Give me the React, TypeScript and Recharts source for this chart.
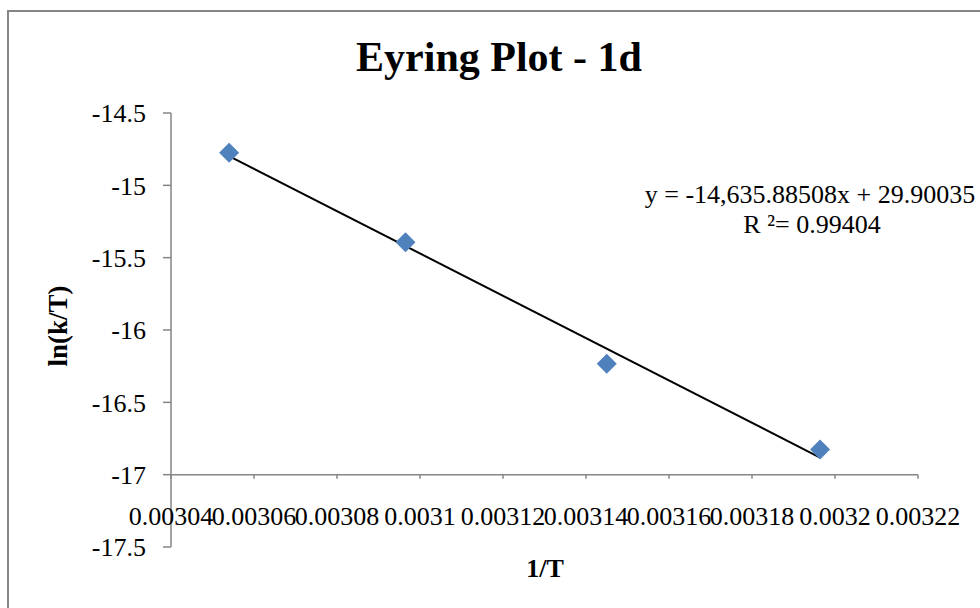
import React from 'react';
import { ScatterChart, Scatter, XAxis, YAxis, ReferenceLine } from 'recharts';

// 1/T (K^-1) and ln(k/T)
const invT = [0.003054, 0.0030965, 0.003145, 0.0031964];
const lnKT = [-14.775, -15.394, -16.234, -16.826];

const xTicks = [0.00304, 0.00306, 0.00308, 0.0031, 0.00312, 0.00314, 0.00316, 0.00318, 0.0032, 0.00322];
const yTicks = [-17.5, -17, -16.5, -16, -15.5, -15, -14.5];

const SLOPE = -14635.88508;
const INTERCEPT = 29.90035;
const R2 = 0.99404;

const FONT = '"Liberation Serif", "Times New Roman", serif';
const AXIS_GRAY = '#868686';
const MARKER = '#4F81BD';

const points = invT.map((x, i) => ({ x, y: lnKT[i] }));
const fit = (x: number) => SLOPE * x + INTERCEPT;

function fmtTick(v: number) {
  return String(Number(v.toFixed(5)));
}

function XTick({ x, y, payload }: { x?: number; y?: number; payload?: { value: number } }) {
  return (
    <text x={x} y={y} dy={-22} textAnchor="middle" fontFamily={FONT} fontSize={26} fill="#000">
      {fmtTick(payload?.value ?? 0)}
    </text>
  );
}

function Diamond({ cx, cy }: { cx?: number; cy?: number }) {
  if (cx == null || cy == null) return null;
  const r = 10;
  return <polygon points={`${cx},${cy - r} ${cx + r},${cy} ${cx},${cy + r} ${cx - r},${cy}`} fill={MARKER} />;
}

export default function App() {
  return (
    <div style={{ position: 'absolute', left: 0, top: 0, width: 980, height: 608, background: '#fff', overflow: 'hidden' }}>
      <div
        style={{
          position: 'absolute',
          left: 7,
          top: 10,
          width: 973,
          height: 598,
          boxSizing: 'border-box',
          borderTop: `2px solid ${AXIS_GRAY}`,
          borderLeft: `2px solid ${AXIS_GRAY}`,
        }}
      />
      <div style={{ position: 'absolute', left: 0, top: 0 }}>
        <ScatterChart width={980} height={608} margin={{ top: 113, right: 62, bottom: 31, left: 0 }}>
          <XAxis
            type="number"
            dataKey="x"
            domain={[0.00304, 0.00322]}
            ticks={xTicks}
            interval={0}
            height={30}
            axisLine={false}
            tickLine={false}
            tickSize={0}
            tickMargin={0}
            tick={<XTick />}
            allowDataOverflow
          />
          <YAxis
            type="number"
            dataKey="y"
            domain={[-17.5, -14.5]}
            ticks={yTicks}
            interval={0}
            width={171}
            axisLine={{ stroke: AXIS_GRAY, strokeWidth: 1.5 }}
            tickLine={{ stroke: AXIS_GRAY, strokeWidth: 1.5 }}
            tickSize={8}
            tickMargin={17}
            tick={{ fill: '#000', fontFamily: FONT, fontSize: 26 }}
            allowDataOverflow
          />
          {/* horizontal axis crosses at -17 */}
          <ReferenceLine y={-17} stroke={AXIS_GRAY} strokeWidth={1.5} ifOverflow="visible" />
          {xTicks.map((t) => (
            <ReferenceLine
              key={t}
              segment={[
                { x: t, y: -17 },
                { x: t, y: -17.028 },
              ]}
              stroke={AXIS_GRAY}
              strokeWidth={1.5}
              ifOverflow="visible"
            />
          ))}
          <ReferenceLine
            segment={[
              { x: invT[0], y: fit(invT[0]) },
              { x: invT[invT.length - 1], y: fit(invT[invT.length - 1]) },
            ]}
            stroke="#000"
            strokeWidth={2}
            ifOverflow="visible"
          />
          <Scatter data={points} shape={<Diamond />} isAnimationActive={false} />
        </ScatterChart>
      </div>
      <svg
        width={980}
        height={608}
        style={{ position: 'absolute', left: 0, top: 0, pointerEvents: 'none' }}
        fontFamily={FONT}
      >
        <text x={499} y={71} textAnchor="middle" fontSize={42} fontWeight="bold" fill="#000">
          Eyring Plot - 1d
        </text>
        <text
          x={0}
          y={0}
          transform="translate(58,326) rotate(-90)"
          textAnchor="middle"
          dominantBaseline="central"
          fontSize={27}
          fontWeight="bold"
          fill="#000"
        >
          ln(k/T)
        </text>
        <text x={545} y={577} textAnchor="middle" fontSize={26} fontWeight="bold" fill="#000">
          1/T
        </text>
        <text x={810} y={203} textAnchor="middle" fontSize={26} fill="#000">
          {`y = ${SLOPE.toLocaleString('en-US', { maximumFractionDigits: 5 })}x + ${INTERCEPT}`}
        </text>
        <text x={812} y={233} textAnchor="middle" fontSize={26} fill="#000">
          {`R ²= ${R2}`}
        </text>
      </svg>
    </div>
  );
}
